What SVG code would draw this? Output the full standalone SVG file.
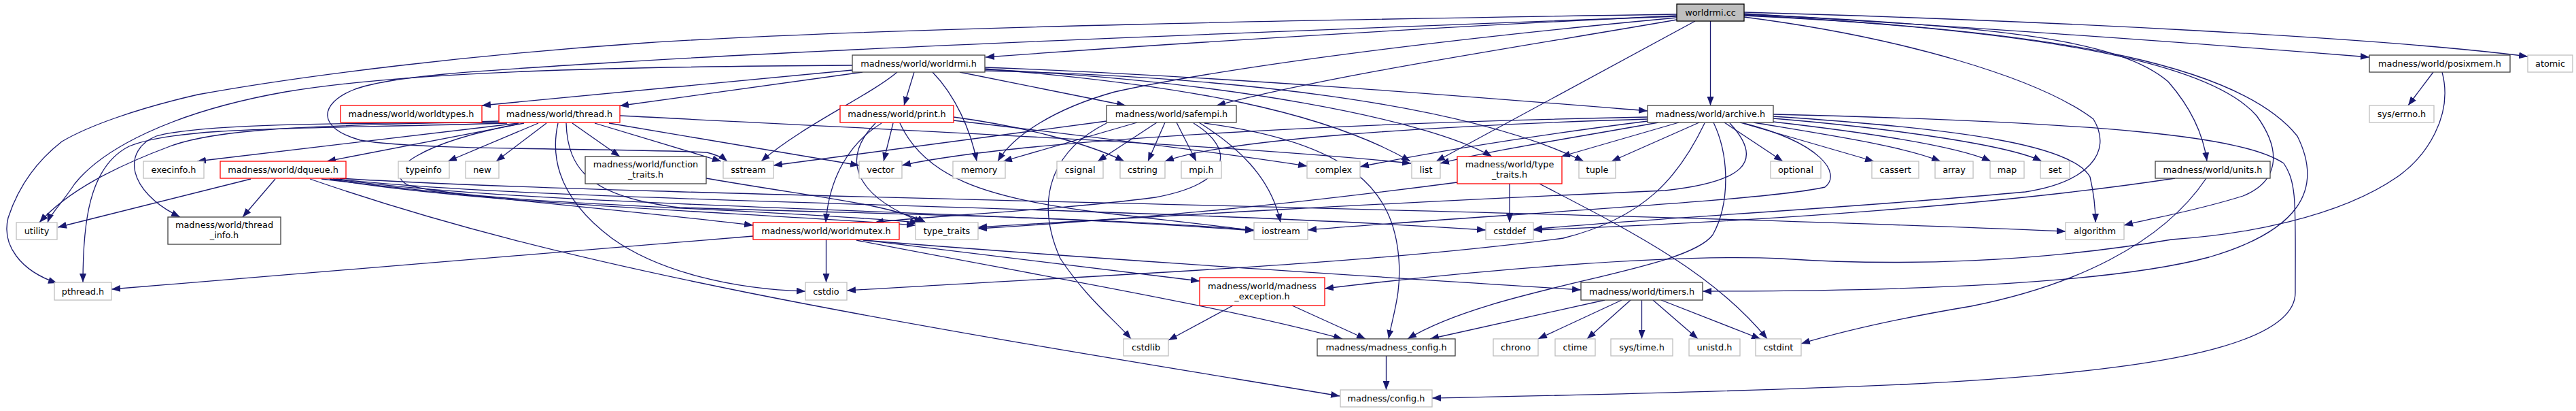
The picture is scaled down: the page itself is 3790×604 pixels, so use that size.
<svg xmlns="http://www.w3.org/2000/svg" width="3790" height="604" viewBox="0 0 3790 604">
<defs>
<marker id="a" viewBox="0 0 13 10" refX="13" refY="5" markerWidth="13" markerHeight="10" markerUnits="userSpaceOnUse" orient="auto"><path d="M0,0 L13,5 L0,10 z" fill="#191970"/></marker>
<style>
rect{fill:#fff;stroke:#bfbfbf;stroke-width:1.3}
.d rect{stroke:#404040}
.r rect{stroke:#ff0000}
.m rect{fill:#bfbfbf;stroke:#000}
text{font-family:"DejaVu Sans","Liberation Sans",sans-serif;font-size:12.85px;fill:#000;text-anchor:middle}
#edges path{fill:none;stroke:#191970;stroke-width:1.3;marker-end:url(#a)}
</style>
</defs>
<rect x="0" y="0" width="3790" height="604" style="fill:#fff;stroke:none"/>
<g id="edges">
<path d="M2467,23 C2150,38 1750,62 1450,84"/>
<path d="M2516.5,31 L2516.5,155"/>
<path d="M2494,31 L2113,237"/>
<path d="M2467,29 C2230,70 1960,110 1790,155"/>
<path d="M2467,26 C2100,60 1800,100 1640,135 C1550,160 1490,200 1468,237"/>
<path d="M2467,24 C1900,45 1250,70 900,92 C700,104 570,112 520,132 C470,152 465,188 530,206 C620,222 900,217 1040,224 C1056,228 1064,232 1070,237"/>
<path d="M2467,21 C2000,28 1300,40 950,63 C700,80 450,110 291,139 C200,160 130,185 91,208 C50,240 25,280 12,320 C2,360 30,398 84,416"/>
<path d="M2566,20 C2900,40 3250,65 3486,84"/>
<path d="M2566,18 C3000,30 3500,55 3719,83"/>
<path d="M2566,21 C2950,38 3120,60 3190,120 C3225,160 3242,200 3247,237"/>
<path d="M2566,22 C3000,45 3250,90 3320,170 C3360,225 3350,268 3300,288 C3230,310 3170,320 3125,331"/>
<path d="M2566,23 C3050,45 3300,100 3380,200 C3420,280 3380,340 3250,378 C3100,418 2800,428 2505,428"/>
<path d="M2566,25 C2800,55 3000,115 3080,175 C3110,225 3070,268 2980,282 C2700,308 2400,322 2256,337"/>
<path d="M1254,103 L709,155"/>
<path d="M1269,106 L912,155.5"/>
<path d="M1320,106 C1280,140 1180,185 1120,237"/>
<path d="M1345,106 L1330,155"/>
<path d="M1372,106 C1405,140 1428,190 1437,237"/>
<path d="M1412,106 L1656,155"/>
<path d="M1449,99 C1800,112 2200,145 2424,163"/>
<path d="M1449,101 C1750,125 1950,165 2075,237"/>
<path d="M1449,102 C1800,118 2100,175 2195,230"/>
<path d="M1449,104 C1800,112 2150,150 2330,237"/>
<path d="M1254,96 C900,98 600,105 420,135 C250,165 150,220 110,270 C90,300 74,315 70,327"/>
<path d="M763,181 L290,237"/>
<path d="M771,181 L481,237"/>
<path d="M792,181 L659,237"/>
<path d="M804,181 L730,237"/>
<path d="M842,181 L912,230"/>
<path d="M875,181 L1061,237"/>
<path d="M896,181 L1264,243"/>
<path d="M734,180 C550,181 300,180 230,200 C180,220 185,280 265,319"/>
<path d="M746,181 C450,190 260,185 190,215 C130,245 122,330 122,415"/>
<path d="M734,178 C500,185 330,185 250,215 C170,245 100,280 58,327"/>
<path d="M821,181 C810,230 820,290 900,350 C970,400 1080,425 1185,428"/>
<path d="M833,181 C835,250 870,290 1000,305 C1300,315 1600,318 1845,338"/>
<path d="M763,182 C620,210 560,250 600,272 C700,300 1100,305 1352,327"/>
<path d="M912,170 C1300,190 1800,212 2076,240"/>
<path d="M369,263 L85,334"/>
<path d="M405,263 L357,319"/>
<path d="M473,263 C700,290 950,312 1108,331"/>
<path d="M456,263 C650,330 850,380 1100,430 C1400,490 1750,545 1971,582"/>
<path d="M485,263 C700,300 1100,312 1347,331"/>
<path d="M490,263 C800,305 1400,306 1845,339"/>
<path d="M495,263 C800,298 1600,300 2186,338"/>
<path d="M500,262 C900,288 2200,305 3039,340"/>
<path d="M1039,262 C1200,290 1310,300 1362,327"/>
<path d="M1314,181 L1300,237"/>
<path d="M1297,181 C1250,210 1220,260 1215,327"/>
<path d="M1288,181 C1240,230 1250,285 1358,327"/>
<path d="M1324,181 C1360,260 1450,290 1600,310 C1700,322 1780,330 1845,339"/>
<path d="M1403,172 C1500,185 1600,210 1654,237"/>
<path d="M1403,177 C1600,200 1800,225 1923,244"/>
<path d="M1628,178 L1138,243"/>
<path d="M1673,180 L1476,237"/>
<path d="M1702,180 L1615,237"/>
<path d="M1714,180 L1689,237"/>
<path d="M1731,180 L1760,237"/>
<path d="M1764,180 C1820,215 1870,260 1884,327"/>
<path d="M1628,181 C1550,220 1520,290 1560,380 C1600,440 1640,470 1664,498"/>
<path d="M1756,181 C1820,220 1810,270 1700,290 C1550,310 1350,318 1287,327"/>
<path d="M1772,181 C1990,210 2050,280 2058,380 C2062,430 2050,460 2043,498"/>
<path d="M2424,172 C2000,180 1500,205 1327,243"/>
<path d="M2424,175 C2100,185 1800,205 1714,237"/>
<path d="M2424,178 C2250,200 2100,225 2001,245"/>
<path d="M2440,180 C2300,205 2200,220 2119,240"/>
<path d="M2470,180 L2297,230"/>
<path d="M2500,180 L2371,237"/>
<path d="M2537,180 L2623,237"/>
<path d="M2560,180 L2757,237"/>
<path d="M2580,180 C2700,200 2800,215 2855,237"/>
<path d="M2600,178 C2750,195 2880,215 2929,237"/>
<path d="M2609,174 C2800,190 2960,215 3004,237"/>
<path d="M2609,171 C2900,190 3050,215 3075,260 C3082,290 3083,310 3083,327"/>
<path d="M2609,168 C3100,180 3300,200 3360,240 C3380,270 3377,300 3377,430 C3377,520 3100,550 2800,565 C2500,578 2250,582 2107,585"/>
<path d="M2521,180 C2545,230 2545,300 2520,345 C2480,400 2200,420 2071,498"/>
<path d="M2565,181 C2680,210 2710,255 2685,275 C2600,295 2200,315 1924,338"/>
<path d="M2545,181 C2600,240 2560,268 2450,280 C2000,300 1700,318 1439,334"/>
<path d="M2508,181 C2470,260 2420,320 2300,350 C2000,390 1600,405 1246,427"/>
<path d="M2221,270 L2221,327"/>
<path d="M2265,270 C2400,340 2520,400 2600,498"/>
<path d="M2144,268 C1900,300 1700,320 1439,336"/>
<path d="M1108,347 L164,425"/>
<path d="M1215.5,352 L1215.5,415"/>
<path d="M1265,352 L1765,413"/>
<path d="M1270,353 C1600,380 2000,405 2326,426"/>
<path d="M1260,353 C1500,400 1800,450 1975,498"/>
<path d="M1814,449 L1719,500"/>
<path d="M1901,449 L2009,498"/>
<path d="M2361,441 L2104,498"/>
<path d="M2386,441 L2263,498"/>
<path d="M2399,441 L2335,498"/>
<path d="M2415.5,441 L2415.5,498"/>
<path d="M2432,441 L2498,498"/>
<path d="M2444,441 L2590,498"/>
<path d="M2039.5,523 L2039.5,573"/>
<path d="M3580,106 L3543,155"/>
<path d="M3593,106 C3610,170 3570,230 3527,260 C3440,320 3300,345 3195,352 C3000,385 2800,392 2620,380 C2450,372 2150,400 1949,424"/>
<path d="M3246,262 C3180,360 3050,420 2900,450 C2780,470 2700,490 2650,505"/>
<path d="M3200,262 C2950,300 2600,325 2256,338"/>
</g>
<g id="worldrmi_cc" class="m"><rect x="2467" y="6" width="99" height="25"/><text x="2516.5" y="23">worldrmi.cc</text></g>
<g id="worldrmi_h" class="d"><rect x="1254" y="81" width="195" height="25"/><text x="1351.5" y="98">madness/world/worldrmi.h</text></g>
<g id="posixmem_h" class="d"><rect x="3486" y="81" width="207" height="25"/><text x="3589.5" y="98">madness/world/posixmem.h</text></g>
<g id="atomic"><rect x="3719" y="81" width="66" height="25"/><text x="3752" y="98">atomic</text></g>
<g id="worldtypes_h" class="r"><rect x="501" y="155" width="208" height="25"/><text x="605" y="172">madness/world/worldtypes.h</text></g>
<g id="thread_h" class="r"><rect x="734" y="155" width="178" height="25"/><text x="823" y="172">madness/world/thread.h</text></g>
<g id="print_h" class="r"><rect x="1236" y="155" width="167" height="25"/><text x="1319.5" y="172">madness/world/print.h</text></g>
<g id="safempi_h" class="d"><rect x="1628" y="155" width="191" height="25"/><text x="1723.5" y="172">madness/world/safempi.h</text></g>
<g id="archive_h" class="d"><rect x="2424" y="155" width="185" height="25"/><text x="2516.5" y="172">madness/world/archive.h</text></g>
<g id="sys_errno_h"><rect x="3486" y="155" width="95" height="25"/><text x="3533.5" y="172">sys/errno.h</text></g>
<g id="execinfo_h"><rect x="211" y="237" width="89" height="25"/><text x="255.5" y="254">execinfo.h</text></g>
<g id="dqueue_h" class="r"><rect x="324" y="237" width="185" height="25"/><text x="416.5" y="254">madness/world/dqueue.h</text></g>
<g id="typeinfo"><rect x="586" y="237" width="75" height="25"/><text x="623.5" y="254">typeinfo</text></g>
<g id="new"><rect x="685" y="237" width="49" height="25"/><text x="709.5" y="254">new</text></g>
<g id="function_traits_h" class="d"><rect x="861" y="230" width="178" height="40"/><text x="950" y="246">madness/world/function</text><text x="950" y="261">_traits.h</text></g>
<g id="sstream"><rect x="1064" y="237" width="74" height="25"/><text x="1101" y="254">sstream</text></g>
<g id="vector"><rect x="1264" y="237" width="63" height="25"/><text x="1295.5" y="254">vector</text></g>
<g id="memory"><rect x="1402" y="237" width="77" height="25"/><text x="1440.5" y="254">memory</text></g>
<g id="csignal"><rect x="1555" y="237" width="68" height="25"/><text x="1589" y="254">csignal</text></g>
<g id="cstring"><rect x="1648" y="237" width="66" height="25"/><text x="1681" y="254">cstring</text></g>
<g id="mpi_h"><rect x="1738" y="237" width="59" height="25"/><text x="1767.5" y="254">mpi.h</text></g>
<g id="complex"><rect x="1923" y="237" width="78" height="25"/><text x="1962" y="254">complex</text></g>
<g id="list"><rect x="2077" y="237" width="42" height="25"/><text x="2098" y="254">list</text></g>
<g id="type_traits_h" class="r"><rect x="2144" y="230" width="154" height="40"/><text x="2221" y="246">madness/world/type</text><text x="2221" y="261">_traits.h</text></g>
<g id="tuple"><rect x="2323" y="237" width="54" height="25"/><text x="2350" y="254">tuple</text></g>
<g id="optional"><rect x="2605" y="237" width="74" height="25"/><text x="2642" y="254">optional</text></g>
<g id="cassert"><rect x="2754" y="237" width="69" height="25"/><text x="2788.5" y="254">cassert</text></g>
<g id="array"><rect x="2847" y="237" width="56" height="25"/><text x="2875" y="254">array</text></g>
<g id="map"><rect x="2928" y="237" width="50" height="25"/><text x="2953" y="254">map</text></g>
<g id="set"><rect x="3002" y="237" width="43" height="25"/><text x="3023.5" y="254">set</text></g>
<g id="units_h" class="d"><rect x="3171" y="237" width="169" height="25"/><text x="3255.5" y="254">madness/world/units.h</text></g>
<g id="utility"><rect x="24" y="327" width="60" height="25"/><text x="54" y="344">utility</text></g>
<g id="thread_info_h" class="d"><rect x="247" y="319" width="166" height="40"/><text x="330" y="335">madness/world/thread</text><text x="330" y="350">_info.h</text></g>
<g id="worldmutex_h" class="r"><rect x="1108" y="327" width="215" height="25"/><text x="1215.5" y="344">madness/world/worldmutex.h</text></g>
<g id="type_traits"><rect x="1347" y="327" width="92" height="25"/><text x="1393" y="344">type_traits</text></g>
<g id="iostream"><rect x="1845" y="327" width="79" height="25"/><text x="1884.5" y="344">iostream</text></g>
<g id="cstddef"><rect x="2186" y="327" width="70" height="25"/><text x="2221" y="344">cstddef</text></g>
<g id="algorithm"><rect x="3039" y="327" width="86" height="25"/><text x="3082" y="344">algorithm</text></g>
<g id="pthread_h"><rect x="80" y="415" width="84" height="26"/><text x="122" y="432.5">pthread.h</text></g>
<g id="cstdio"><rect x="1185" y="415" width="61" height="26"/><text x="1215.5" y="432.5">cstdio</text></g>
<g id="madness_exception_h" class="r"><rect x="1765" y="408" width="184" height="41"/><text x="1857" y="425">madness/world/madness</text><text x="1857" y="440">_exception.h</text></g>
<g id="timers_h" class="d"><rect x="2326" y="415" width="179" height="26"/><text x="2415.5" y="432.5">madness/world/timers.h</text></g>
<g id="cstdlib"><rect x="1653" y="498" width="66" height="25"/><text x="1686" y="515">cstdlib</text></g>
<g id="madness_config_h" class="d"><rect x="1938" y="498" width="203" height="25"/><text x="2039.5" y="515">madness/madness_config.h</text></g>
<g id="chrono"><rect x="2197" y="498" width="66" height="25"/><text x="2230" y="515">chrono</text></g>
<g id="ctime"><rect x="2288" y="498" width="59" height="25"/><text x="2317.5" y="515">ctime</text></g>
<g id="sys_time_h"><rect x="2370" y="498" width="91" height="25"/><text x="2415.5" y="515">sys/time.h</text></g>
<g id="unistd_h"><rect x="2485" y="498" width="75" height="25"/><text x="2522.5" y="515">unistd.h</text></g>
<g id="cstdint"><rect x="2583" y="498" width="67" height="25"/><text x="2616.5" y="515">cstdint</text></g>
<g id="config_h"><rect x="1972" y="573" width="135" height="25"/><text x="2039.5" y="590">madness/config.h</text></g>
</svg>
